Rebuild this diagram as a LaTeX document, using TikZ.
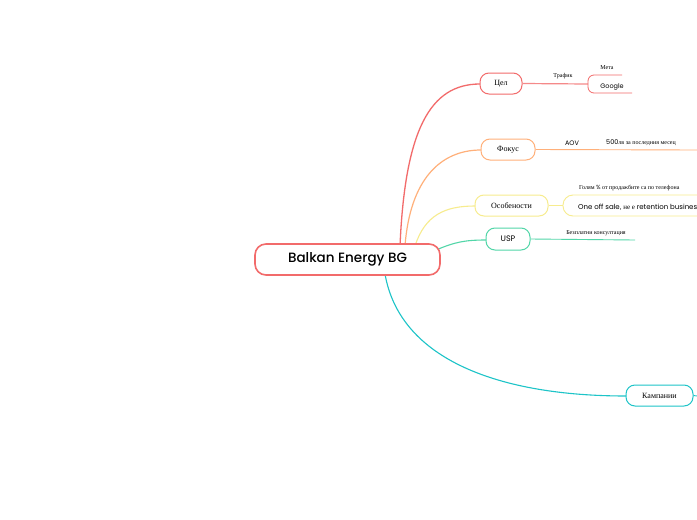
\documentclass[tikz,border=0pt]{standalone}
\usepackage{fontspec}
\setmainfont{Liberation Serif}
\newfontfamily\pop{Poppins}
\newfontfamily\popm{Poppins Medium}
\begin{document}
\begin{tikzpicture}[x=1pt,y=-1pt,
  box/.style={rounded corners=9pt,fill=white,inner sep=0pt,minimum height=21pt},
  lbl/.style={font=\fontsize{6}{7}\selectfont,inner sep=1pt}]
\definecolor{cR}{HTML}{F26B6B}\definecolor{cO}{HTML}{FFB07A}\definecolor{cY}{HTML}{F7EC8E}
\definecolor{cG}{HTML}{52D6A8}\definecolor{cT}{HTML}{1DC4C8}
\fill[white] (0,0) rectangle (697,520);
\useasboundingbox (0,0) rectangle (697,520);
% curves
\draw[cR,line width=1.3pt] (400,246) .. controls (405,130) and (430,84) .. (480,84);
\draw[cO,line width=1.2pt] (405,246) .. controls (410,180) and (440,150) .. (481,150);
\draw[cY,line width=1.1pt] (415,246) .. controls (425,215) and (445,206) .. (475,206);
\draw[cG,line width=1.1pt] (436,250) .. controls (455,242) and (465,240) .. (486,240);
\draw[cT,line width=1.1pt] (385,274) .. controls (400,360) and (500,396) .. (626,396);
% center
\node[draw=cR,line width=1.6pt,rounded corners=11pt,minimum width=185pt,minimum height=31pt,fill=white,font=\popm\fontsize{13.5}{15}\selectfont] (c) at (347.5,259.5) {Balkan Energy BG};
% Цел
\node[box,draw=cR,line width=1pt,minimum width=42pt,font=\fontsize{8}{9}\selectfont] (cel) at (501,83.5) {Цел};
\coordinate (g1) at (588,84);
\draw[cR!80,line width=1.2pt] (cel.east) -- (g1);
\node[lbl] (tr) at (563,76) {Трафик};
\draw[cR,line width=0.8pt,rounded corners=6pt] (622,75) -- (588,75) -- (588,93) -- (632,93);
\node[lbl] (meta) at (607,68) {Мета};
\node[lbl,font=\pop\fontsize{6.5}{7}\selectfont] (goo) at (612,86.5) {Google};
% Фокус
\node[box,draw=cO,line width=1pt,minimum width=54pt,font=\fontsize{8}{9}\selectfont] (fok) at (508,149.5) {Фокус};
\coordinate (fe) at (697,150);
\draw[cO,line width=0.9pt] (fok.east) -- (fe);
\node[lbl,font=\pop\fontsize{6.5}{7}\selectfont] (aov) at (572,143) {AOV};
\node[lbl,anchor=west] (lv) at (605,143) {{\pop\fontsize{6.5}{7}\selectfont 500}лв за последния месец};
% Особености
\node[box,draw=cY,line width=1pt,minimum width=73pt,font=\fontsize{8}{9}\selectfont] (os) at (511.5,205.5) {Особености};
\draw[cY,line width=0.9pt,rounded corners=10pt] (697,195) -- (563,195) -- (563,216) -- (697,216);
\coordinate (osb) at (563,205.5);
\draw[cY,line width=0.9pt] (os.east) -- (osb);
\node[lbl,anchor=west] (gol) at (578,188) {Голям {\pop\%} от продажбите са по телефона};
\node[lbl,anchor=west,font=\fontsize{7}{8}\selectfont] (one) at (577,207) {{\pop One off sale}, не е {\pop retention business}};
% USP
\node[box,draw=cG,line width=1pt,minimum width=44pt,minimum height=22pt,font=\pop\fontsize{8}{9}\selectfont] (usp) at (508,239) {USP};
\coordinate (ue) at (635,240);
\draw[cG,line width=0.9pt] (usp.east) -- (ue);
\node[lbl] (bez) at (596,233) {Безплатни консултация};
% Кампании
\node[box,draw=cT,line width=1pt,minimum width=67pt,font=\fontsize{8}{9}\selectfont] (kam) at (659.5,395.5) {Кампании};
\coordinate (ke) at (697,396);
\draw[cT,line width=0.9pt] (kam.east) -- (ke);
\end{tikzpicture}
\end{document}
